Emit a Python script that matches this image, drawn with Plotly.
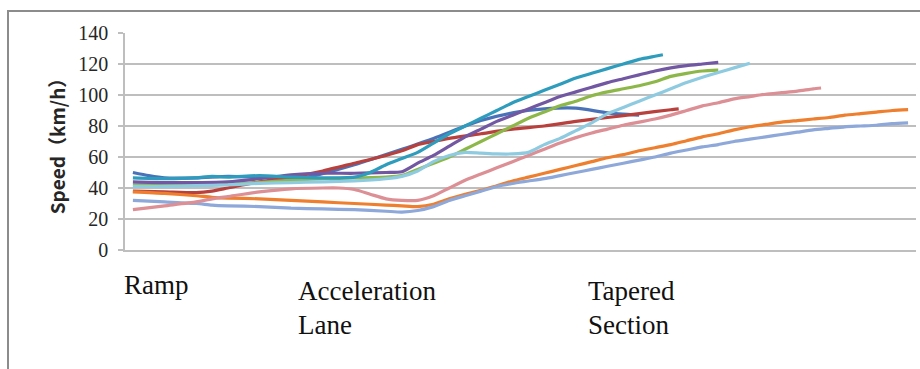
import plotly.graph_objects as go

# Speed profiles (km/h) along the merge area, sampled at station positions
x_blue = [0, 1, 2, 4, 6, 8, 10, 11, 14, 17, 19, 21, 22, 24, 26, 28, 30, 32]
y_blue = [50, 48, 46.5, 46.5, 47.5, 47, 46.5, 47, 55, 65, 72, 80, 83.5, 88.5, 91, 91.5, 88.5, 87]

x_red = [0, 2, 4, 5, 6, 8, 10, 12, 14, 16, 17, 18, 19, 20, 22, 24, 26, 28, 30, 32, 34, 34.5]
y_red = [38, 37.5, 37, 38, 40, 44, 47, 51, 56, 61, 64, 68, 70, 72, 75, 78, 80, 83, 85.5, 88, 90.5, 91]

x_green = [0, 2, 4, 6, 8, 10, 12, 14, 16, 17, 18, 19, 20, 21, 22, 23, 24, 25, 26, 27, 28, 29, 30,
           31, 32, 33, 34, 35, 36, 37]
y_green = [42, 42, 42, 42.5, 43.5, 45, 46, 46.5, 47, 48, 52, 56, 60, 65, 70, 75, 80, 85, 89, 93, 96,
           99.5, 102, 104, 106, 108.5, 112, 114, 115.5, 116]

x_purple = [0, 2, 4, 6, 8, 10, 12, 14, 16, 17, 18, 19, 20, 21, 22, 23, 24, 25, 26, 27, 28, 29, 30,
            31, 32, 33, 34, 35, 36, 37]
y_purple = [44, 43.5, 43.5, 44, 46, 48.5, 49.5, 49.5, 50, 50.5, 56, 61, 67, 73, 78, 83, 87, 91, 95,
            99, 102, 105, 108, 110.5, 113, 115.5, 117.5, 119, 120, 121]

x_teal = [0, 2, 4, 5, 6, 8, 10, 12, 14, 15, 16, 17, 18, 19, 20, 21, 22, 23, 24, 25, 26, 27, 28,
          29, 30, 31, 32, 33, 33.5]
y_teal = [46.5, 46, 46.5, 47.5, 47, 48, 47, 46.5, 47, 50, 55, 59, 63, 69, 75, 80, 85, 90, 95, 99,
          103, 107, 111, 114, 117, 120, 123, 125, 126]

x_orange = [0, 2, 4, 5, 6, 8, 10, 12, 14, 16, 17, 18, 19, 20, 21, 22, 23, 24, 25, 26, 27, 28, 29,
            30, 31, 32, 33, 34, 35, 36, 37, 38, 39, 40, 41, 42, 43, 44, 45, 46, 47, 48, 49]
y_orange = [37.5, 36.5, 35, 34, 33.5, 33, 32, 31, 30, 29, 28.5, 28, 29.5, 33, 36, 38.5, 41.5, 44.5,
            47, 49.5, 52, 54.5, 57, 59.5, 61.5, 64, 66, 68, 70.5, 73, 75, 77.5, 79.5, 81, 82.5,
            83.5, 84.5, 85.5, 87, 88, 89, 90, 90.5]

x_steel = [0, 2, 4, 5, 6, 8, 10, 12, 14, 16, 17, 18, 19, 20, 21, 22, 23, 24, 25, 26, 27, 28, 29,
           30, 31, 32, 33, 34, 35, 36, 37, 38, 39, 40, 41, 42, 43, 44, 45, 46, 47, 48, 49]
y_steel = [32, 31, 30, 29, 28.5, 28, 27, 26.5, 26, 25, 24.5, 25.5, 28, 32, 35, 38, 41, 43, 44.5,
           46, 48, 50, 52, 54, 56, 58, 60, 62.5, 64.5, 66.5, 68, 70, 71.5, 73, 74.5, 76, 77.5,
           78.5, 79.5, 80, 80.5, 81.5, 82]

x_pink = [0, 2, 4, 5, 6, 8, 10, 12, 13, 14, 15, 16, 17, 18, 19, 20, 21, 22, 23, 24, 25, 26, 27,
          28, 29, 30, 31, 32, 33, 34, 35, 36, 37, 38, 39, 40, 41, 42, 43, 43.5]
y_pink = [26, 28.5, 31, 33, 34.5, 37.5, 39.5, 40, 40, 39, 36, 33, 32, 32, 35, 40, 45, 49, 53, 57,
          61, 65, 69, 72.5, 75.5, 78, 80.5, 82.5, 84.5, 87, 90, 93, 95, 97.5, 99, 100.5, 101.5,
          102.5, 104, 104.5]

x_cyan = [0, 2, 4, 6, 8, 10, 12, 14, 16, 17, 18, 19, 20, 21, 22, 23, 24, 25, 26, 27, 28, 29, 30,
          31, 32, 33, 34, 35, 36, 37, 38, 39]
y_cyan = [41, 41, 41.5, 42, 43, 43.5, 44, 44.5, 46, 47.5, 51, 57, 61, 63, 62.5, 62, 62, 63, 68,
          72, 77, 82, 88, 92, 96, 100, 104, 108, 111.5, 114.5, 117.5, 120.5]

y_ticks = [0, 20, 40, 60, 80, 100, 120, 140]
section_labels = ["Ramp", "Acceleration", "Lane", "Tapered", "Section"]

series = [
    (x_blue, y_blue, "#4A72B8"),
    (x_red, y_red, "#B8413D"),
    (x_green, y_green, "#8DB849"),
    (x_purple, y_purple, "#7257A2"),
    (x_teal, y_teal, "#2E9CBC"),
    (x_orange, y_orange, "#EE7F2E"),
    (x_steel, y_steel, "#8DA8D9"),
    (x_pink, y_pink, "#DC8F94"),
    (x_cyan, y_cyan, "#8FCBE0"),
]

fig = go.Figure()
for xs, ys, col in series:
    fig.add_trace(go.Scatter(
        x=xs, y=ys, mode="lines",
        line=dict(color=col, width=3.2, shape="spline", smoothing=0.6),
        showlegend=False, hoverinfo="skip",
    ))

W, H = 920, 369
L, R, T, B = 125, 4, 33, 119
pw, ph = W - L - R, H - T - B


def px(x):
    return (x - L) / pw


def py(y):
    return (H - B - y) / ph


grid = "#BEBEBE"
fig.update_layout(
    width=W, height=H,
    margin=dict(l=L, r=R, t=T, b=B),
    paper_bgcolor="white", plot_bgcolor="white",
    xaxis=dict(range=[-0.5, 49.5], showgrid=False, zeroline=False,
               showticklabels=False, showline=True, linecolor=grid, linewidth=1.5,
               ticks=""),
    yaxis=dict(range=[0, 140], tickvals=y_ticks, showgrid=True, gridcolor=grid,
               gridwidth=1.5, zeroline=False, showline=True, linecolor=grid,
               linewidth=1.5, ticks="outside", ticklen=5, tickcolor=grid, tickwidth=1.5,
               tickfont=dict(family="Liberation Serif", size=20, color="#262626"),
               ticklabelstandoff=6,
               title=dict(text="Speed（km/h）", standoff=8,
                          font=dict(family="Noto Sans CJK SC", size=19, color="#262626",
                                    weight="bold"))),
)

# outer frame (left and top edges)
frame = dict(color="#8C8C8C", width=2)
fig.add_shape(type="line", xref="paper", yref="paper",
              x0=px(8), x1=px(8), y0=py(11), y1=py(H + 2), line=frame)
fig.add_shape(type="line", xref="paper", yref="paper",
              x0=px(7), x1=px(W + 2), y0=py(11), y1=py(11), line=frame)

# section captions under the axis
label_pos = [(122, 285), (296, 291), (296, 325), (586, 291), (586, 325)]
for txt, (lx, ly) in zip(section_labels, label_pos):
    fig.add_annotation(text=txt, xref="paper", yref="paper", x=px(lx), y=py(ly),
                       xanchor="left", yanchor="middle", showarrow=False,
                       font=dict(family="Liberation Serif", size=27, color="#111111"))

fig.write_html("out.html")
